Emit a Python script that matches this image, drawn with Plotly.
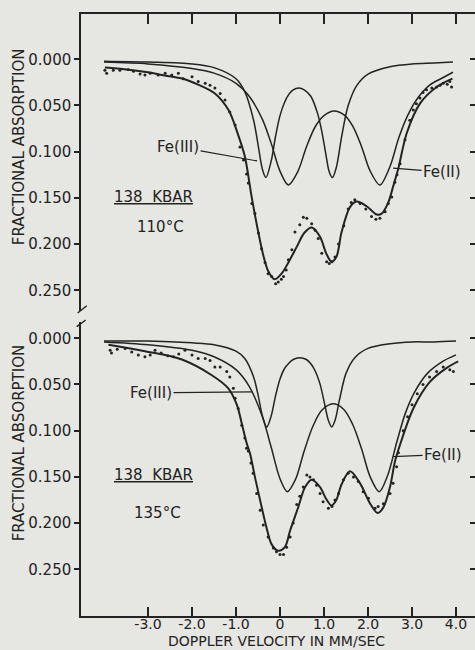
import plotly.graph_objects as go

# ---------------- data ----------------
VEL_TICKS = [-3, -2, -1, 0, 1, 2, 3, 4]
VEL_TICK_TEXT = ["-3.0", "-2.0", "-1.0", "0", "1.0", "2.0", "3.0", "4.0"]
ABS_TICKS = [0.0, 0.05, 0.10, 0.15, 0.20, 0.25]
ABS_TICK_TEXT = ["0.000", "0.050", "0.100", "0.150", "0.200", "0.250"]

# ---- upper panel: 138 kbar, 110 C ----
TOP_FE3_V = [-4.0, -3.0, -2.0, -1.5, -1.0, -0.8, -0.6, -0.5, -0.4, -0.32, -0.2, -0.1, 0.0, 0.1, 0.2,
             0.3, 0.43, 0.55, 0.7, 0.85, 0.95, 1.05, 1.12, 1.19, 1.28, 1.4, 1.55, 1.75, 2.0, 2.5,
             3.0, 3.5, 3.93]
TOP_FE3 = [0.002, 0.003, 0.005, 0.009, 0.021, 0.035, 0.066, 0.092, 0.119, 0.128, 0.110, 0.083, 0.061,
           0.047, 0.038, 0.033, 0.031, 0.033, 0.040, 0.058, 0.078, 0.105, 0.122, 0.128, 0.117, 0.084,
           0.050, 0.028, 0.016, 0.008, 0.005, 0.004, 0.003]

TOP_FE2_V = [-4.0, -3.0, -2.0, -1.5, -1.0, -0.7, -0.4, -0.2, 0.0, 0.19, 0.4, 0.6, 0.8, 1.0, 1.23,
             1.45, 1.65, 1.85, 2.05, 2.27, 2.5, 2.7, 2.9, 3.1, 3.4, 3.7, 3.93]
TOP_FE2 = [0.003, 0.005, 0.010, 0.015, 0.026, 0.040, 0.065, 0.091, 0.121, 0.136, 0.122, 0.095, 0.073,
           0.061, 0.056, 0.060, 0.072, 0.094, 0.121, 0.136, 0.116, 0.085, 0.061, 0.044, 0.028, 0.020,
           0.014]

TOP_FIT_V = [-3.98, -3.5, -3.0, -2.69, -2.2, -1.93, -1.48, -1.17, -0.95, -0.80, -0.64, -0.49, -0.38,
             -0.27, -0.12, 0.05, 0.2, 0.38, 0.55, 0.72, 0.91, 1.05, 1.17, 1.28, 1.40, 1.59, 1.74, 1.97,
             2.20, 2.31, 2.46, 2.57, 2.69, 2.88, 3.18, 3.56, 3.92]
TOP_FIT = [0.009, 0.011, 0.014, 0.017, 0.021, 0.026, 0.037, 0.055, 0.082, 0.105, 0.150, 0.188, 0.212,
           0.229, 0.238, 0.231, 0.219, 0.203, 0.188, 0.182, 0.192, 0.210, 0.219, 0.214, 0.187, 0.160,
           0.154, 0.159, 0.168, 0.167, 0.155, 0.138, 0.118, 0.080, 0.048, 0.030, 0.021]

TOP_OBS_V = [-3.98, -3.94, -3.79, -3.64, -3.45, -3.33, -3.18, -3.07, -2.95, -2.77, -2.61, -2.46, -2.31,
             -2.20, -2.00, -1.86, -1.70, -1.59, -1.48, -1.36, -1.25, -1.14, -1.02, -0.91, -0.83, -0.76,
             -0.72, -0.64, -0.57, -0.49, -0.42, -0.34, -0.27, -0.19, -0.10, -0.04, 0.03, 0.08, 0.14,
             0.19, 0.27, 0.34, 0.45, 0.53, 0.61, 0.72, 0.80, 0.87, 0.95, 1.06, 1.12, 1.18, 1.25, 1.33,
             1.45, 1.55, 1.62, 1.70, 1.82, 1.95, 2.08, 2.18, 2.27, 2.39, 2.46, 2.54, 2.61, 2.66, 2.73,
             2.84, 2.95, 3.03, 3.10, 3.18, 3.25, 3.33, 3.45, 3.56, 3.64, 3.71, 3.80, 3.86, 3.90]
TOP_OBS = [0.012, 0.015, 0.012, 0.012, 0.011, 0.013, 0.016, 0.017, 0.015, 0.017, 0.015, 0.017, 0.015,
           0.021, 0.019, 0.024, 0.026, 0.028, 0.031, 0.037, 0.044, 0.057, 0.071, 0.095, 0.109, 0.124,
           0.134, 0.156, 0.167, 0.188, 0.205, 0.220, 0.232, 0.235, 0.243, 0.241, 0.238, 0.235, 0.228,
           0.217, 0.206, 0.187, 0.179, 0.171, 0.172, 0.178, 0.185, 0.194, 0.210, 0.219, 0.221, 0.219,
           0.214, 0.200, 0.180, 0.162, 0.155, 0.152, 0.156, 0.162, 0.170, 0.173, 0.172, 0.165, 0.156,
           0.149, 0.133, 0.125, 0.113, 0.087, 0.066, 0.055, 0.048, 0.042, 0.036, 0.033, 0.031, 0.030,
           0.028, 0.026, 0.027, 0.024, 0.030]

# ---- lower panel: 138 kbar, 135 C ----
BOT_FE3_V = [-4.0, -3.0, -2.0, -1.5, -1.0, -0.8, -0.6, -0.5, -0.4, -0.3, -0.2, -0.1, 0.0, 0.1, 0.2,
             0.3, 0.44, 0.6, 0.75, 0.9, 1.0, 1.1, 1.175, 1.25, 1.35, 1.5, 1.7, 2.0, 2.5, 3.0, 3.5, 4.0]
BOT_FE3 = [0.003, 0.003, 0.005, 0.007, 0.014, 0.022, 0.042, 0.061, 0.084, 0.096, 0.084, 0.062, 0.044,
           0.033, 0.027, 0.023, 0.021, 0.023, 0.031, 0.048, 0.068, 0.089, 0.096, 0.089, 0.067, 0.038,
           0.021, 0.011, 0.006, 0.004, 0.004, 0.003]

BOT_FE2_V = [-4.0, -3.0, -2.0, -1.5, -1.0, -0.7, -0.4, -0.2, 0.0, 0.166, 0.35, 0.55, 0.75, 0.95, 1.21,
             1.45, 1.65, 1.85, 2.05, 2.257, 2.45, 2.65, 2.85, 3.05, 3.35, 3.7, 4.0]
BOT_FE2 = [0.004, 0.007, 0.013, 0.020, 0.034, 0.052, 0.085, 0.118, 0.152, 0.166, 0.153, 0.122, 0.095,
           0.078, 0.071, 0.077, 0.093, 0.119, 0.150, 0.166, 0.148, 0.113, 0.081, 0.059, 0.038, 0.025,
           0.018]

BOT_FIT_V = [-3.9, -3.07, -2.23, -1.55, -1.18, -0.98, -0.87, -0.76, -0.68, -0.57, -0.42, -0.30, -0.19,
             -0.04, 0.11, 0.23, 0.42, 0.57, 0.72, 0.91, 1.05, 1.17, 1.28, 1.40, 1.59, 1.82, 2.05, 2.22,
             2.35, 2.50, 2.61, 2.73, 3.03, 3.41, 3.79, 4.05]
BOT_FIT = [0.007, 0.014, 0.023, 0.040, 0.054, 0.072, 0.092, 0.113, 0.125, 0.150, 0.182, 0.206, 0.223,
           0.230, 0.226, 0.208, 0.182, 0.161, 0.153, 0.161, 0.174, 0.181, 0.175, 0.158, 0.144, 0.157,
           0.179, 0.189, 0.183, 0.161, 0.134, 0.115, 0.076, 0.047, 0.032, 0.025]

BOT_OBS_V = [-3.86, -3.83, -3.70, -3.52, -3.37, -3.22, -3.07, -2.95, -2.84, -2.70, -2.55, -2.42, -2.30,
             -2.16, -2.00, -1.86, -1.70, -1.59, -1.48, -1.36, -1.21, -1.14, -1.06, -1.02, -0.95, -0.87,
             -0.80, -0.76, -0.72, -0.66, -0.61, -0.53, -0.45, -0.38, -0.27, -0.15, -0.08, 0.0, 0.08,
             0.15, 0.23, 0.30, 0.38, 0.45, 0.53, 0.61, 0.68, 0.76, 0.83, 0.91, 0.98, 1.10, 1.18, 1.25,
             1.33, 1.44, 1.55, 1.67, 1.78, 1.89, 2.01, 2.16, 2.23, 2.35, 2.50, 2.57, 2.65, 2.69, 2.80,
             2.90, 3.00, 3.12, 3.25, 3.40, 3.56, 3.71, 3.86, 3.94]
BOT_OBS = [0.013, 0.016, 0.012, 0.011, 0.015, 0.018, 0.020, 0.018, 0.013, 0.016, 0.019, 0.020, 0.017,
           0.013, 0.018, 0.022, 0.022, 0.024, 0.031, 0.031, 0.036, 0.042, 0.054, 0.065, 0.076, 0.094,
           0.108, 0.119, 0.122, 0.135, 0.146, 0.168, 0.186, 0.202, 0.215, 0.227, 0.231, 0.234, 0.234,
           0.226, 0.215, 0.200, 0.180, 0.171, 0.161, 0.148, 0.150, 0.153, 0.159, 0.168, 0.177, 0.184,
           0.182, 0.175, 0.168, 0.153, 0.146, 0.150, 0.155, 0.166, 0.173, 0.184, 0.182, 0.179, 0.168,
           0.157, 0.139, 0.124, 0.100, 0.085, 0.072, 0.060, 0.050, 0.042, 0.036, 0.031, 0.034, 0.036]

# ---------------- styling ----------------
INK = "#232323"
PAPER = "#e6e6e2"
FONT = "DejaVu Sans"
X_RANGE = [-4.523, 4.432]
TOP_RANGE = [0.2724, -0.049]
BOT_RANGE = [0.3005, -0.0176]

fig = go.Figure()


def curve(x, y, xa, ya, width):
    fig.add_trace(go.Scatter(x=x, y=y, mode="lines", xaxis=xa, yaxis=ya,
                             line=dict(color=INK, width=width, shape="spline", smoothing=0.9),
                             hoverinfo="skip", showlegend=False))


def dots(x, y, xa, ya):
    fig.add_trace(go.Scatter(x=x, y=y, mode="markers", xaxis=xa, yaxis=ya,
                             marker=dict(color=INK, size=3),
                             hoverinfo="skip", showlegend=False))


curve(TOP_FE3_V, TOP_FE3, "x", "y", 1.5)
curve(TOP_FE2_V, TOP_FE2, "x", "y", 1.5)
curve(TOP_FIT_V, TOP_FIT, "x", "y", 2.0)
dots(TOP_OBS_V, TOP_OBS, "x", "y")

curve(BOT_FE3_V, BOT_FE3, "x2", "y2", 1.5)
curve(BOT_FE2_V, BOT_FE2, "x2", "y2", 1.5)
curve(BOT_FIT_V, BOT_FIT, "x2", "y2", 2.0)
dots(BOT_OBS_V, BOT_OBS, "x2", "y2")

# helper traces so the right-hand tick axes render
fig.add_trace(go.Scatter(x=[X_RANGE[0]], y=[TOP_RANGE[0]], mode="markers", xaxis="x", yaxis="y3",
                         marker=dict(opacity=0), hoverinfo="skip", showlegend=False))
fig.add_trace(go.Scatter(x=[X_RANGE[0]], y=[BOT_RANGE[0]], mode="markers", xaxis="x2", yaxis="y4",
                         marker=dict(opacity=0), hoverinfo="skip", showlegend=False))

TOP_DOM = [0.5066, 1.0]
BOT_DOM = [0.0, 0.4884]

common_y = dict(showline=True, linecolor=INK, linewidth=1.5, ticks="outside", ticklen=5,
                tickwidth=1.5, tickcolor=INK, tickvals=ABS_TICKS, ticktext=ABS_TICK_TEXT,
                tickfont=dict(family=FONT, size=15, color=INK), showgrid=False, zeroline=False)
right_y = dict(side="right", ticks="inside", ticklen=5, tickwidth=1.5, tickcolor=INK,
               tickvals=ABS_TICKS, showticklabels=False, showline=False, showgrid=False,
               zeroline=False)

fig.update_layout(
    width=475, height=650,
    margin=dict(l=81, r=0, t=14, b=34),
    paper_bgcolor=PAPER, plot_bgcolor=PAPER,
    font=dict(family=FONT, color=INK),
    xaxis=dict(domain=[0, 1], anchor="y", range=X_RANGE, side="top", showline=True,
               linecolor=INK, linewidth=1.5, ticks="inside", ticklen=10, tickwidth=1.5,
               tickcolor=INK, tickvals=VEL_TICKS, showticklabels=False, showgrid=False,
               zeroline=False),
    yaxis=dict(domain=TOP_DOM, anchor="x", range=TOP_RANGE, **common_y),
    yaxis3=dict(overlaying="y", anchor="x", range=TOP_RANGE, **right_y),
    xaxis2=dict(domain=[0, 1], anchor="y2", range=X_RANGE, side="bottom", showline=True,
                linecolor=INK, linewidth=1.5, ticks="inside", ticklen=9, tickwidth=1.5,
                tickcolor=INK, tickvals=VEL_TICKS, ticktext=VEL_TICK_TEXT,
                tickfont=dict(family=FONT, size=14, color=INK), ticklabelstandoff=-6,
                showgrid=False, zeroline=False),
    yaxis2=dict(domain=BOT_DOM, anchor="x2", range=BOT_RANGE, **common_y),
    yaxis4=dict(overlaying="y2", anchor="x2", range=BOT_RANGE, **right_y),
)

lab = dict(family=FONT, size=15, color=INK)
ann = []
# axis titles
ann.append(dict(text="FRACTIONAL ABSORPTION", xref="paper", yref="paper", x=-0.157, y=0.779,
                textangle=-90, showarrow=False, font=dict(family=FONT, size=15, color=INK),
                xanchor="center", yanchor="middle"))
ann.append(dict(text="FRACTIONAL ABSORPTION", xref="paper", yref="paper", x=-0.157, y=0.287,
                textangle=-90, showarrow=False, font=dict(family=FONT, size=15, color=INK),
                xanchor="center", yanchor="middle"))
ann.append(dict(text="DOPPLER VELOCITY IN MM/SEC", xref="paper", yref="paper", x=0.497, y=-0.0565,
                showarrow=False, font=dict(family=FONT, size=14, color=INK), borderpad=0,
                xanchor="center", yanchor="bottom"))
# panel labels
ann.append(dict(text="<u>138  KBAR</u>", xref="x", yref="y", x=-2.886, y=0.149, showarrow=False,
                font=lab))
ann.append(dict(text="110°C", xref="x", yref="y", x=-2.727, y=0.1815, showarrow=False, font=lab))
ann.append(dict(text="<u>138  KBAR</u>", xref="x2", yref="y2", x=-2.886, y=0.148, showarrow=False,
                font=lab))
ann.append(dict(text="135°C", xref="x2", yref="y2", x=-2.795, y=0.189, showarrow=False, font=lab))
# component labels with leaders
arrow = dict(showarrow=True, arrowhead=0, arrowwidth=1.2, arrowcolor=INK, font=lab)
ann.append(dict(text="Fe(III)", xref="x", yref="y", x=-0.52, y=0.110, ax=-79, ay=-14, **arrow))
ann.append(dict(text="Fe(II)", xref="x", yref="y", x=2.57, y=0.1177, ax=49, ay=4, **arrow))
ann.append(dict(text="Fe(III)", xref="x2", yref="y2", x=-0.636, y=0.058, ax=-101, ay=1, **arrow))
ann.append(dict(text="Fe(II)", xref="x2", yref="y2", x=2.57, y=0.128, ax=50, ay=-2, **arrow))
fig.update_layout(annotations=ann)

# axis-break marks on the left axis
fig.update_layout(shapes=[
    dict(type="line", xref="paper", yref="paper", x0=-0.0084, y0=0.5033, x1=0.0145, y1=0.5154,
         line=dict(color=INK, width=1.5)),
    dict(type="line", xref="paper", yref="paper", x0=-0.0109, y0=0.4806, x1=0.0119, y1=0.4917,
         line=dict(color=INK, width=1.5)),
])

fig.write_html("out.html",
               config={"displayModeBar": False},
               post_script="document.body.style.margin='0px';"
                           "document.body.style.padding='0px';"
                           "document.body.style.background='" + PAPER + "';")
